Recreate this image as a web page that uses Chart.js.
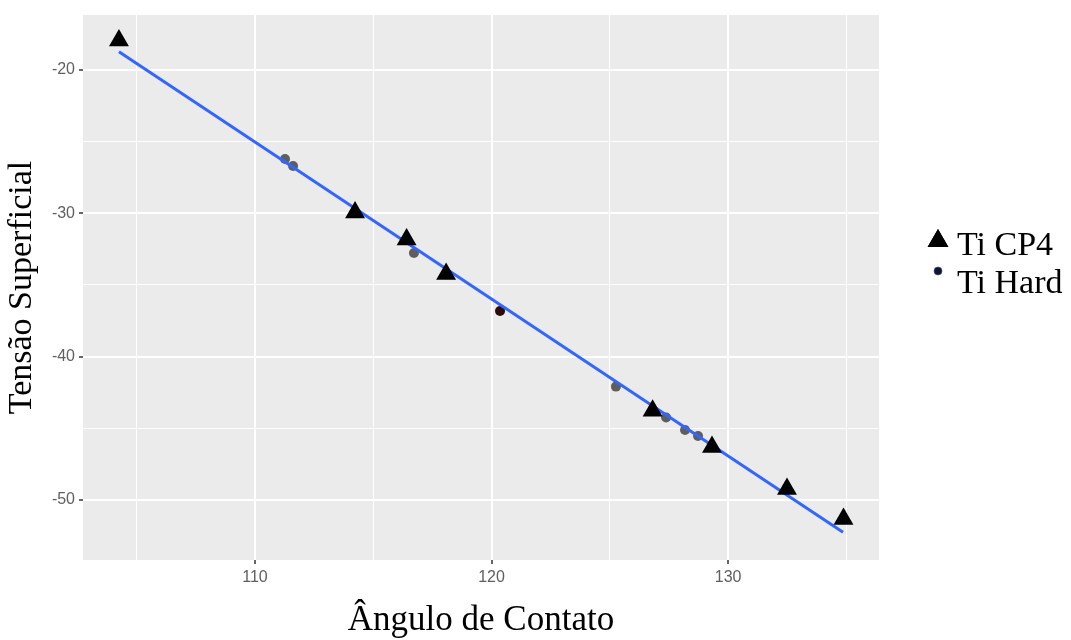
<!DOCTYPE html>
<html>
<head>
<meta charset="utf-8">
<script src="https://cdn.jsdelivr.net/npm/chart.js@4.4.0/dist/chart.umd.min.js"></script>
<style>
  body { margin: 0; background: #ffffff; }
  canvas { display: block; }
</style>
</head>
<body>
<canvas id="tensao" width="1071" height="640"></canvas>
<script>
// Ti CP4 samples (triangles)
const tiCp4Angle = [104.25, 114.23, 116.41, 118.08, 126.81, 129.32, 132.49, 134.88];
const tiCp4Tension = [-17.94, -29.94, -31.83, -34.24, -43.78, -46.31, -49.24, -51.33];

// Ti Hard samples (circles)
const tiHardAngle = [111.27, 111.61, 116.72, 120.36, 125.26, 127.38, 128.18, 128.73];
const tiHardTension = [-26.21, -26.70, -32.77, -36.82, -42.09, -44.25, -45.12, -45.54];

// linear fit, end points
const fitAngle = [104.25, 134.86];
const fitTension = [-18.72, -52.26];

// axis grid values and which of them get a label
const xGridValues = [105, 110, 115, 120, 125, 130, 135];
const xTickLabels = [110, 120, 130];
const yGridValues = [-50, -45, -40, -35, -30, -25, -20];
const yTickLabels = [-50, -40, -30, -20];

const seriesNames = ['Ti CP4', 'Ti Hard'];

function toPoints(xs, ys){
  return xs.map((x, i) => ({x: x, y: ys[i]}));
}

const panelBackground = {
  id: 'panelBackground',
  beforeDraw: (chart) => {
    const {ctx, chartArea} = chart;
    ctx.save();
    ctx.fillStyle = '#ffffff';
    ctx.fillRect(0, 0, chart.width, chart.height);
    ctx.fillStyle = '#ebebeb';
    ctx.fillRect(chartArea.left, chartArea.top, chartArea.right - chartArea.left, chartArea.bottom - chartArea.top);
    ctx.restore();
  }
};

// legend to the right of the panel, markers sized like the plotted ones
const sideLegend = {
  id: 'sideLegend',
  afterDraw: (chart) => {
    const {ctx, chartArea} = chart;
    const markerX = chartArea.right + 59;
    const textX = chartArea.right + 78;
    ctx.save();
    Chart.helpers.drawPoint(ctx, {pointStyle: 'triangle', radius: 12, borderWidth: 0}, markerX, 241);
    ctx.fillStyle = '#000000';
    ctx.fill();
    ctx.beginPath();
    ctx.arc(markerX, 271, 4, 0, Math.PI * 2);
    ctx.fillStyle = '#141428';
    ctx.fill();
    ctx.lineWidth = 1;
    ctx.strokeStyle = 'rgba(50,80,170,0.6)';
    ctx.stroke();
    ctx.fillStyle = '#000000';
    ctx.font = '34px "Liberation Serif"';
    ctx.textBaseline = 'alphabetic';
    ctx.fillText(seriesNames[0], textX, 255);
    ctx.fillText(seriesNames[1], textX, 293);
    ctx.restore();
  }
};

const isMajor = (list, value) => list.includes(value);

new Chart(document.getElementById('tensao'), {
  type: 'scatter',
  data: {
    datasets: [{
      label: seriesNames[0],
      data: toPoints(tiCp4Angle, tiCp4Tension),
      pointStyle: 'triangle',
      pointRadius: 11.5,
      pointBorderWidth: 0,
      backgroundColor: '#000000',
      borderColor: '#000000',
      order: 0
    }, {
      type: 'line',
      label: 'ajuste',
      data: toPoints(fitAngle, fitTension),
      borderColor: '#3366ff',
      borderWidth: 3,
      pointRadius: 0,
      fill: false,
      order: 1
    }, {
      label: seriesNames[1],
      data: toPoints(tiHardAngle, tiHardTension),
      pointStyle: 'circle',
      pointRadius: 5,
      pointBorderWidth: 0,
      backgroundColor: ['rgba(0,0,0,0.6)', 'rgba(0,0,0,0.6)', 'rgba(0,0,0,0.6)', '#2e0a0c',
        'rgba(0,0,0,0.6)', 'rgba(0,0,0,0.6)', 'rgba(0,0,0,0.6)', 'rgba(0,0,0,0.6)'],
      order: 2
    }]
  },
  options: {
    responsive: false,
    animation: false,
    layout: {
      padding: {top: 15, right: 192, left: 0, bottom: 0}
    },
    plugins: {
      legend: {display: false},
      tooltip: {enabled: false}
    },
    scales: {
      x: {
        type: 'linear',
        min: 102.73,
        max: 136.38,
        afterFit: (scale) => { scale.height = 80; },
        afterBuildTicks: (scale) => { scale.ticks = xGridValues.map(v => ({value: v})); },
        border: {display: false},
        grid: {
          color: '#ffffff',
          lineWidth: (c) => isMajor(xTickLabels, c.tick && c.tick.value) ? 2 : 1,
          tickColor: (c) => isMajor(xTickLabels, c.tick && c.tick.value) ? '#333333' : 'rgba(0,0,0,0)',
          tickLength: 4,
          tickWidth: 1.5
        },
        ticks: {
          autoSkip: false,
          maxRotation: 0,
          padding: 4,
          color: '#606060',
          font: {family: '"Liberation Sans"', size: 16},
          callback: (value) => isMajor(xTickLabels, value) ? String(value) : ''
        },
        title: {
          display: true,
          text: 'Ângulo de Contato',
          color: '#000000',
          font: {family: '"Liberation Serif"', size: 35},
          padding: {top: 0, bottom: -2}
        }
      },
      y: {
        type: 'linear',
        min: -54.19,
        max: -16.16,
        afterFit: (scale) => { scale.width = 83; },
        afterBuildTicks: (scale) => { scale.ticks = yGridValues.map(v => ({value: v})); },
        border: {display: false},
        grid: {
          color: '#ffffff',
          lineWidth: (c) => isMajor(yTickLabels, c.tick && c.tick.value) ? 2 : 1,
          tickColor: (c) => isMajor(yTickLabels, c.tick && c.tick.value) ? '#333333' : 'rgba(0,0,0,0)',
          tickLength: 4,
          tickWidth: 1.5
        },
        ticks: {
          autoSkip: false,
          padding: 4,
          color: '#606060',
          font: {family: '"Liberation Sans"', size: 16},
          callback: (value) => isMajor(yTickLabels, value) ? String(value) : ''
        },
        title: {
          display: true,
          text: 'Tensão Superficial',
          color: '#000000',
          font: {family: '"Liberation Serif"', size: 34},
          padding: {top: 2, bottom: 0}
        }
      }
    }
  },
  plugins: [panelBackground, sideLegend]
});
</script>
</body>
</html>
